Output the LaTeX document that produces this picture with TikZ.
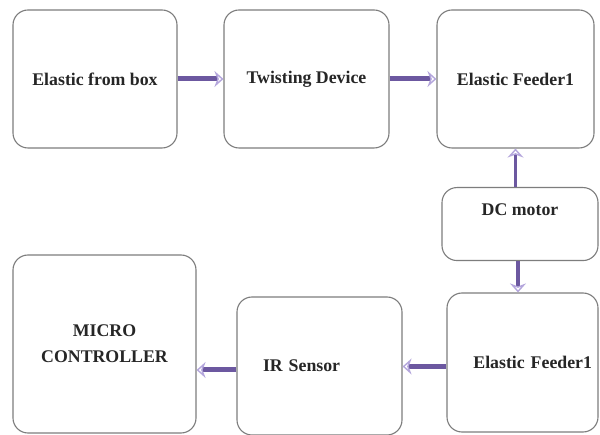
\documentclass[tikz,border=0pt]{standalone}
\usepackage{fontspec}
\setmainfont{Liberation Serif}[BoldFont={Liberation Serif Bold}]
\newfontfamily\tnr{Liberation Serif}[BoldFont={Liberation Serif Bold}]
\usetikzlibrary{arrows.meta}
\definecolor{shaft}{RGB}{108,88,160}
\definecolor{lav}{RGB}{180,166,220}
\definecolor{edge}{RGB}{125,125,125}
\begin{document}
\begin{tikzpicture}[x=1pt,y=-1pt,
  box/.style={draw=edge, line width=1.1pt, rounded corners=15pt, fill=white,
    font=\tnr\fontsize{17.8}{26}\selectfont\bfseries, inner sep=0pt, text=black!85},
  flow/.style={line width=5pt, draw=shaft,
    -{Stealth[open, length=9pt, width=16pt, color=lav, line width=1.4pt]}}]
\useasboundingbox[fill=white] (0,0) rectangle (600,435);
% top row
\node[box, minimum width=164pt, minimum height=138pt] (efb) at (95,79) {Elastic from box};
\node[box, minimum width=165pt, minimum height=138pt] (twist) at (306.5,79) {Twisting Device};
\node[box, minimum width=157pt, minimum height=138pt] (feedA) at (515.5,79) {Elastic Feeder1};
% DC motor
\node[box, minimum width=156pt, text height=28pt, text depth=45pt] (dc) at (520,187) [anchor=north] {DC motor};
% bottom row
\node[box, minimum width=151pt, minimum height=139pt, text width=139pt, inner xsep=6pt, align=right] (feedB) at (522.5,362.5) {Elastic Feeder1};
\node[box, minimum width=165pt, minimum height=138pt, text width=113pt, inner xsep=26pt, align=left] (ir) at (319.5,366) {IR Sensor};
\node[box, minimum width=183pt, minimum height=178pt, align=center] (mc) at (104.5,344) {MICRO\\CONTROLLER};
% connectors
\draw[flow] (efb.east) -- (twist.west);
\draw[flow] (twist.east) -- (feedA.west);
\draw[flow, line width=3.8pt] (dc.north -| feedA.south) -- (feedA.south);
\draw[flow, line width=3.8pt] ([xshift=-2pt]dc.south) -- ([xshift=-2pt]dc.south |- feedB.north);
\draw[flow] ([yshift=-4pt]feedB.west) -- ([yshift=-4pt]feedB.west -| ir.east);
\draw[flow] ([yshift=-4pt]ir.west) -- ([yshift=-4pt]ir.west -| mc.east);
\end{tikzpicture}
\end{document}
